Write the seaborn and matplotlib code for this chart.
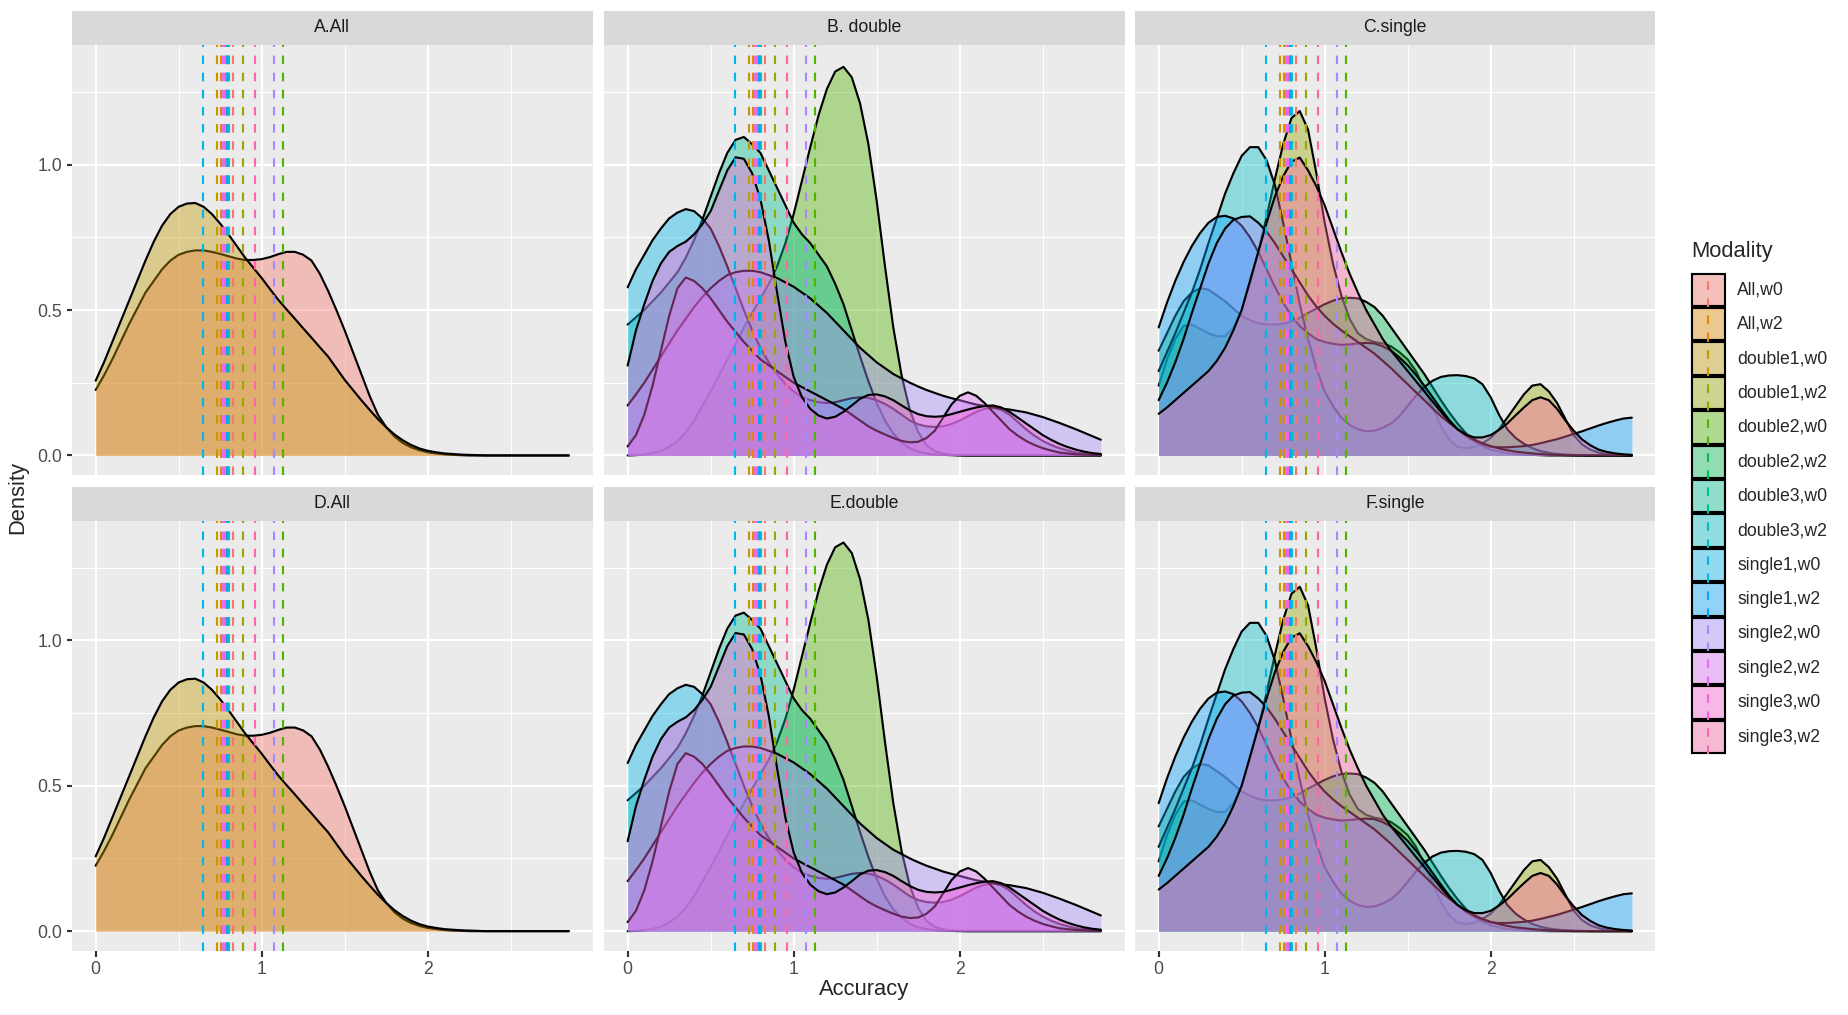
import numpy as np
import pandas as pd
import matplotlib
matplotlib.use("Agg")
import matplotlib.pyplot as plt
import seaborn as sns
from matplotlib.patches import Rectangle
from matplotlib.colors import to_rgba

# DATA
modality = ["All,w0", "All,w2", "double1,w0", "double1,w2", "double2,w0", "double2,w2",
            "double3,w0", "double3,w2", "single1,w0", "single1,w2", "single2,w0",
            "single2,w2", "single3,w0", "single3,w2"]
palette = ["#F8766D", "#E38900", "#C49A00", "#99A800", "#53B400", "#00BC56", "#00C094",
           "#00BFC4", "#00B6EB", "#06A4FF", "#A58AFF", "#DF70F8", "#FB61D7", "#FF66A8"]
mean_acc = [0.825, 0.753, 0.732, 0.885, 1.129, 0.800, 0.790, 0.805, 0.644, 0.793,
            1.076, 0.765, 0.777, 0.960]

accuracy = [0.0, 0.05, 0.1, 0.15, 0.2, 0.25, 0.3, 0.35, 0.4, 0.45,
            0.5, 0.55, 0.6, 0.65, 0.7, 0.75, 0.8, 0.85, 0.9, 0.95,
            1.0, 1.05, 1.1, 1.15, 1.2, 1.25, 1.3, 1.35, 1.4, 1.45,
            1.5, 1.55, 1.6, 1.65, 1.7, 1.75, 1.8, 1.85, 1.9, 1.95,
            2.0, 2.05, 2.1, 2.15, 2.2, 2.25, 2.3, 2.35, 2.4, 2.45,
            2.5, 2.55, 2.6, 2.65, 2.7, 2.75, 2.8, 2.85]

# panel "All"
all_w0 = [0.225, 0.275, 0.33, 0.39, 0.45, 0.505, 0.56, 0.60, 0.64, 0.67,
          0.69, 0.70, 0.705, 0.705, 0.70, 0.693, 0.685, 0.677, 0.672, 0.672,
          0.675, 0.682, 0.692, 0.70, 0.70, 0.69, 0.67, 0.625, 0.566, 0.50,
          0.43, 0.355, 0.28, 0.205, 0.14, 0.097, 0.065, 0.043, 0.028, 0.018,
          0.011, 0.007, 0.004, 0.002, 0.001, 0, 0, 0, 0, 0,
          0, 0, 0, 0, 0, 0, 0, 0]
all_gold = [0.257, 0.32, 0.39, 0.46, 0.53, 0.60, 0.67, 0.735, 0.79, 0.83,
            0.855, 0.866, 0.868, 0.855, 0.83, 0.797, 0.76, 0.72, 0.68, 0.645,
            0.61, 0.572, 0.535, 0.502, 0.47, 0.437, 0.405, 0.372, 0.34, 0.30,
            0.26, 0.225, 0.19, 0.157, 0.125, 0.097, 0.072, 0.052, 0.036, 0.024,
            0.016, 0.011, 0.007, 0.005, 0.003, 0.002, 0.001, 0, 0, 0,
            0, 0, 0, 0, 0, 0, 0, 0]

# panel "double"
dbl_green = [0.0, 0.001, 0.003, 0.008, 0.015, 0.03, 0.05, 0.08, 0.12, 0.17,
             0.22, 0.275, 0.33, 0.385, 0.44, 0.49, 0.54, 0.59, 0.65, 0.73,
             0.83, 0.945, 1.06, 1.17, 1.26, 1.32, 1.336, 1.30, 1.21, 1.07,
             0.875, 0.65, 0.44, 0.275, 0.155, 0.08, 0.035, 0.015, 0.006, 0.002,
             0.001, 0, 0, 0, 0, 0, 0, 0, 0, 0,
             0, 0, 0, 0, 0, 0, 0, 0]
dbl_teal = [0.45, 0.475, 0.50, 0.53, 0.56, 0.595, 0.63, 0.68, 0.74, 0.81,
            0.89, 0.97, 1.04, 1.085, 1.095, 1.07, 1.04, 0.98, 0.92, 0.86,
            0.80, 0.76, 0.73, 0.69, 0.65, 0.59, 0.52, 0.43, 0.34, 0.255,
            0.18, 0.12, 0.075, 0.045, 0.025, 0.013, 0.007, 0.003, 0.002, 0.001,
            0, 0, 0, 0, 0, 0, 0, 0, 0, 0,
            0, 0, 0, 0, 0, 0, 0, 0]
dbl_sky = [0.578, 0.64, 0.69, 0.74, 0.78, 0.815, 0.835, 0.847, 0.84, 0.815,
           0.78, 0.72, 0.65, 0.575, 0.50, 0.43, 0.37, 0.32, 0.28, 0.245,
           0.22, 0.20, 0.19, 0.183, 0.18, 0.183, 0.19, 0.197, 0.20, 0.198,
           0.19, 0.177, 0.16, 0.14, 0.12, 0.107, 0.10, 0.098, 0.10, 0.108,
           0.12, 0.135, 0.15, 0.16, 0.165, 0.157, 0.14, 0.115, 0.09, 0.068,
           0.05, 0.036, 0.025, 0.017, 0.01, 0.007, 0.004, 0.002]
dbl_lav = [0.172, 0.21, 0.25, 0.295, 0.34, 0.385, 0.43, 0.47, 0.51, 0.545,
           0.575, 0.60, 0.62, 0.63, 0.635, 0.635, 0.63, 0.62, 0.61, 0.595,
           0.58, 0.56, 0.54, 0.515, 0.49, 0.46, 0.43, 0.40, 0.37, 0.345,
           0.32, 0.30, 0.28, 0.265, 0.25, 0.237, 0.225, 0.215, 0.205, 0.197,
           0.19, 0.182, 0.175, 0.17, 0.165, 0.161, 0.158, 0.153, 0.148, 0.14,
           0.132, 0.122, 0.112, 0.101, 0.09, 0.078, 0.066, 0.054]
dbl_mag = [0.031, 0.07, 0.14, 0.24, 0.36, 0.48, 0.575, 0.612, 0.60, 0.575,
           0.54, 0.50, 0.46, 0.425, 0.39, 0.36, 0.33, 0.31, 0.29, 0.27,
           0.25, 0.235, 0.22, 0.205, 0.19, 0.175, 0.16, 0.14, 0.12, 0.10,
           0.085, 0.072, 0.06, 0.05, 0.045, 0.047, 0.06, 0.085, 0.13, 0.175,
           0.205, 0.217, 0.205, 0.18, 0.15, 0.12, 0.09, 0.068, 0.05, 0.036,
           0.025, 0.017, 0.01, 0.007, 0.004, 0.003, 0.002, 0.001]
dbl_pink = [0.309, 0.43, 0.52, 0.60, 0.66, 0.70, 0.72, 0.735, 0.76, 0.795,
            0.84, 0.91, 0.98, 1.025, 1.02, 0.97, 0.88, 0.74, 0.56, 0.39,
            0.27, 0.20, 0.16, 0.137, 0.127, 0.133, 0.15, 0.172, 0.195, 0.208,
            0.21, 0.203, 0.19, 0.172, 0.155, 0.142, 0.135, 0.133, 0.135, 0.142,
            0.15, 0.158, 0.165, 0.17, 0.172, 0.165, 0.15, 0.13, 0.11, 0.09,
            0.07, 0.054, 0.04, 0.029, 0.02, 0.013, 0.008, 0.005]

# panel "single"
sgl_olive = [0.24, 0.33, 0.40, 0.445, 0.45, 0.435, 0.42, 0.41, 0.41, 0.44,
             0.50, 0.59, 0.70, 0.82, 0.95, 1.07, 1.16, 1.184, 1.12, 0.97,
             0.80, 0.66, 0.55, 0.47, 0.42, 0.40, 0.39, 0.385, 0.375, 0.355,
             0.33, 0.29, 0.23, 0.165, 0.10, 0.055, 0.03, 0.025, 0.03, 0.042,
             0.06, 0.09, 0.13, 0.17, 0.21, 0.24, 0.245, 0.22, 0.18, 0.125,
             0.07, 0.038, 0.02, 0.01, 0.005, 0.002, 0.001, 0.0]
sgl_green = [0.36, 0.42, 0.48, 0.53, 0.56, 0.575, 0.57, 0.55, 0.53, 0.505,
             0.48, 0.465, 0.455, 0.45, 0.45, 0.453, 0.46, 0.473, 0.49, 0.505,
             0.52, 0.532, 0.54, 0.542, 0.54, 0.528, 0.51, 0.48, 0.44, 0.40,
             0.36, 0.32, 0.28, 0.235, 0.19, 0.148, 0.11, 0.077, 0.05, 0.032,
             0.02, 0.013, 0.008, 0.005, 0.003, 0.002, 0.001, 0, 0, 0,
             0, 0, 0, 0, 0, 0, 0, 0]
sgl_teal = [0.29, 0.355, 0.42, 0.49, 0.56, 0.64, 0.73, 0.815, 0.90, 0.97,
            1.03, 1.06, 1.06, 1.015, 0.93, 0.80, 0.66, 0.52, 0.40, 0.30,
            0.22, 0.17, 0.13, 0.105, 0.09, 0.083, 0.085, 0.095, 0.11, 0.135,
            0.17, 0.205, 0.235, 0.257, 0.27, 0.275, 0.276, 0.273, 0.265, 0.245,
            0.20, 0.14, 0.09, 0.06, 0.04, 0.025, 0.015, 0.009, 0.005, 0.003,
            0.002, 0.001, 0, 0, 0, 0, 0, 0]
sgl_blue = [0.44, 0.525, 0.60, 0.665, 0.72, 0.765, 0.80, 0.82, 0.824, 0.815,
            0.79, 0.75, 0.70, 0.64, 0.58, 0.525, 0.48, 0.445, 0.42, 0.40,
            0.39, 0.384, 0.38, 0.382, 0.385, 0.387, 0.385, 0.375, 0.36, 0.337,
            0.31, 0.277, 0.24, 0.20, 0.16, 0.122, 0.09, 0.067, 0.05, 0.038,
            0.03, 0.028, 0.028, 0.03, 0.032, 0.036, 0.042, 0.049, 0.056, 0.065,
            0.074, 0.083, 0.093, 0.103, 0.112, 0.12, 0.127, 0.13]
sgl_peri = [0.19, 0.25, 0.32, 0.40, 0.49, 0.575, 0.66, 0.73, 0.78, 0.81,
            0.82, 0.822, 0.80, 0.77, 0.73, 0.685, 0.64, 0.595, 0.55, 0.512,
            0.48, 0.453, 0.43, 0.41, 0.39, 0.37, 0.35, 0.325, 0.30, 0.272,
            0.245, 0.217, 0.19, 0.162, 0.135, 0.112, 0.09, 0.071, 0.055, 0.042,
            0.032, 0.024, 0.018, 0.013, 0.01, 0.007, 0.005, 0.003, 0.002, 0.001,
            0, 0, 0, 0, 0, 0, 0, 0]
sgl_pink = [0.143, 0.165, 0.19, 0.215, 0.24, 0.265, 0.29, 0.325, 0.37, 0.43,
            0.50, 0.60, 0.70, 0.80, 0.89, 0.96, 1.01, 1.024, 0.98, 0.925,
            0.86, 0.78, 0.70, 0.625, 0.56, 0.50, 0.45, 0.40, 0.36, 0.325,
            0.29, 0.255, 0.22, 0.185, 0.15, 0.118, 0.09, 0.072, 0.062, 0.062,
            0.07, 0.088, 0.11, 0.138, 0.165, 0.19, 0.20, 0.19, 0.16, 0.12,
            0.085, 0.055, 0.035, 0.02, 0.012, 0.007, 0.004, 0.002]

curves = {
    "All": [("All,w0", all_w0), ("double1,w0", all_gold)],
    "double": [("double2,w0", dbl_green), ("double3,w0", dbl_teal), ("single1,w0", dbl_sky),
               ("single2,w0", dbl_lav), ("single2,w2", dbl_mag), ("single3,w0", dbl_pink)],
    "single": [("double1,w2", sgl_olive), ("double2,w2", sgl_green), ("double3,w2", sgl_teal),
               ("single1,w2", sgl_blue), ("single2,w0", sgl_peri), ("single3,w2", sgl_pink)],
}
facets = [("A.All", "All"), ("B. double", "double"), ("C.single", "single"),
          ("D.All", "All"), ("E.double", "double"), ("F.single", "single")]

rows = []
for grp, lst in curves.items():
    for m, vals in lst:
        assert len(vals) == len(accuracy), (grp, m, len(vals))
        for a, d in zip(accuracy, vals):
            rows.append((grp, m, a, d))
df = pd.DataFrame(rows, columns=["panel", "Modality", "Accuracy", "Density"])

# STYLE
sns.set_theme(style="darkgrid", rc={"axes.facecolor": "#EBEBEB", "grid.color": "white"})
plt.rcParams['font.family'] = ['Liberation Sans', 'DejaVu Sans']

W, H, DPI = 1848, 1015, 144
LW = 1.07
fig = plt.figure(figsize=(W / DPI, H / DPI), dpi=DPI)

col_left = [72, 604, 1135]
row_top = [45, 520.7]
pw, ph, strip_h = 520.5, 430, 34

for k, (title, grp) in enumerate(facets):
    r, c = divmod(k, 3)
    left, top = col_left[c], row_top[r]
    ax = fig.add_axes([left / W, 1 - (top + ph) / H, pw / W, ph / H])
    sub = df[df.panel == grp]
    for i, m in enumerate(modality):
        g = sub[sub.Modality == m]
        if g.empty:
            continue
        z = 2 + 2 * i
        ax.fill_between(g.Accuracy, 0, g.Density, color=palette[i], alpha=0.4, lw=0, zorder=z)
        sns.lineplot(data=g, x="Accuracy", y="Density", color="black", lw=LW, ax=ax, zorder=z + 1)
    for i, m in enumerate(modality):
        ax.axvline(mean_acc[i], color=palette[i], lw=LW, ls=(0, (4, 4)), zorder=100)

    ax.set_xlim(-0.1425, 2.9925)
    ax.set_ylim(-0.0672, 1.4112)
    ax.set_xticks([0, 1, 2])
    ax.set_xticks([0.5, 1.5, 2.5], minor=True)
    ax.set_yticks([0, 0.5, 1.0])
    ax.set_yticks([0.25, 0.75, 1.25], minor=True)
    ax.set_xticklabels(["0", "1", "2"])
    ax.set_yticklabels(["0.0", "0.5", "1.0"])
    ax.grid(which="major", color="white", lw=LW)
    ax.grid(which="minor", color="white", lw=LW / 2)
    for sp in ax.spines.values():
        sp.set_visible(False)
    ax.set_xlabel("")
    ax.set_ylabel("")
    ax.tick_params(which="minor", length=0)
    ax.tick_params(which="major", length=2.75, width=LW, color="#333333",
                   labelsize=8.8, labelcolor="#4D4D4D", pad=2.2,
                   bottom=(r == 1), labelbottom=(r == 1),
                   left=(c == 0), labelleft=(c == 0))

    sax = fig.add_axes([left / W, 1 - top / H, pw / W, strip_h / H])
    sax.set_facecolor("#D9D9D9")
    sax.grid(False)
    sax.set_xticks([])
    sax.set_yticks([])
    for sp in sax.spines.values():
        sp.set_visible(False)
    sax.text(0.5, 0.5, title, ha="center", va="center", fontsize=8.8, color="#1A1A1A",
             transform=sax.transAxes)

fig.text(17.5 / W, 1 - 498 / H, "Density", rotation=90, ha="center", va="center", fontsize=11)
fig.text(863.8 / W, 1 - 990 / H, "Accuracy", ha="center", va="center", fontsize=11)

# legend
lax = fig.add_axes([0, 0, 1, 1])
lax.set_xlim(0, W)
lax.set_ylim(H, 0)
lax.axis("off")
lax.text(1691, 251.6, "Modality", ha="left", va="center", fontsize=11)
key_w, key_h, key_top = 34.6, 34.4, 272.6
for i, m in enumerate(modality):
    y0 = key_top + i * key_h
    lax.add_patch(Rectangle((1691, y0), key_w, key_h, facecolor="#F2F2F2", edgecolor="none"))
    lax.add_patch(Rectangle((1692, y0 + 1), key_w - 2, key_h - 2,
                            facecolor=to_rgba(palette[i], 0.4), edgecolor="black", lw=LW))
    lax.plot([1691 + key_w / 2] * 2, [y0 + key_h, y0], color=palette[i], lw=LW, ls=(0, (4, 4)))
    lax.text(1737, y0 + key_h / 2, m, ha="left", va="center", fontsize=8.8)

fig.savefig("out.png", dpi=DPI)
